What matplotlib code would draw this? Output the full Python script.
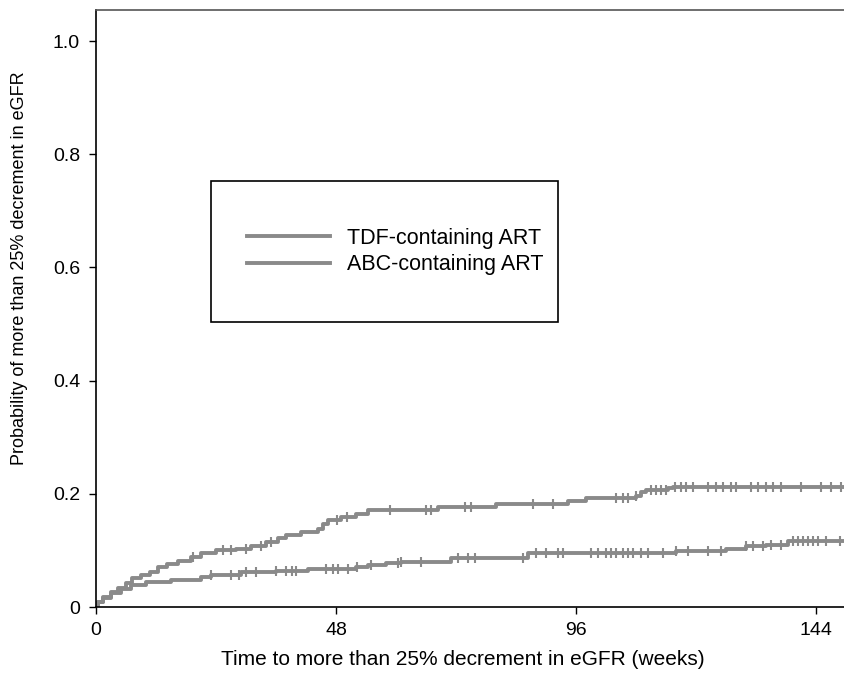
import numpy as np
import matplotlib
matplotlib.use('Agg')
import matplotlib.pyplot as plt
from matplotlib.patches import Rectangle

plt.rcParams['font.family'] = ['Liberation Sans', 'DejaVu Sans']

# step data (weeks, cumulative probability)
tdf_time = [0, 0.5, 1.5, 3, 4.5, 6, 7.2, 9, 10.8, 12.5, 14.2, 16.5, 19, 21, 24, 28,
            31, 34, 36.5, 38, 41, 44.5, 45.5, 46.5, 49, 52, 54.5, 68.5, 80, 94.5,
            98, 108, 109, 110, 114.5, 115.5, 150]
tdf_prob = [0, 0.008, 0.018, 0.026, 0.034, 0.042, 0.051, 0.056, 0.062, 0.070, 0.076,
            0.082, 0.088, 0.095, 0.100, 0.103, 0.108, 0.114, 0.122, 0.128, 0.133,
            0.138, 0.146, 0.154, 0.159, 0.165, 0.171, 0.177, 0.182, 0.187, 0.193,
            0.197, 0.203, 0.207, 0.210, 0.212, 0.212]

abc_time = [0, 0.5, 1.5, 3, 5, 7, 10, 15, 21, 23, 29, 36, 42.5, 52, 54.5, 58, 61,
            71, 86.5, 116, 126, 130, 134, 138.5, 150]
abc_prob = [0, 0.008, 0.016, 0.024, 0.032, 0.038, 0.044, 0.048, 0.053, 0.057, 0.061,
            0.064, 0.068, 0.071, 0.074, 0.077, 0.080, 0.087, 0.095, 0.099, 0.102,
            0.107, 0.109, 0.116, 0.116]

# censoring marks (weeks)
tdf_cens = [19.5, 25.5, 27, 30, 33, 35, 48.2, 50.3, 58.8, 66, 67.1, 73.8, 75, 87.5,
            91.5, 104, 105.5, 106.5, 108, 111, 112, 113, 114, 115.8, 117, 118, 119.5,
            122.5, 124, 125.5, 127, 128, 131, 132.5, 134, 135.5, 137, 141, 145, 147, 149]
abc_cens = [23, 27, 28.7, 30, 32, 36, 38, 39.3, 40, 46, 47.5, 48.5, 50.5, 52.3, 55,
            60.5, 61, 65, 72.5, 74.5, 75.8, 85.5, 88, 90, 92.5, 93.5, 99, 100.5, 102,
            103, 104, 105.5, 106.5, 107.5, 109, 110.5, 113.5, 116, 118.5, 122.5, 125,
            130, 131.5, 133.5, 135, 137, 139.5, 140.5, 141.5, 142.5, 143.5, 144.5, 146,
            148.8]

labels = ['TDF-containing ART', 'ABC-containing ART']
xticks = [0, 48, 96, 144]
yticks = [0, 0.2, 0.4, 0.6, 0.8, 1.0]
yticklabels = ['0', '0.2', '0.4', '0.6', '0.8', '1.0']

line_col = '#8a8a8a'


def step_at(times, probs, t):
    idx = np.searchsorted(times, t, side='right') - 1
    return np.asarray(probs)[idx]


fig = plt.figure(figsize=(8.45, 6.83), dpi=100)
ax = fig.add_axes([96 / 845, 1 - 607 / 683, 1 - 96 / 845, 597 / 683])

h1, = ax.plot(tdf_time, tdf_prob, drawstyle='steps-post', color=line_col, lw=2.8)
h2, = ax.plot(abc_time, abc_prob, drawstyle='steps-post', color=line_col, lw=2.8)
ax.plot(tdf_cens, step_at(tdf_time, tdf_prob, tdf_cens), ls='none', marker='|',
        ms=7, mew=1.5, color=line_col)
ax.plot(abc_cens, step_at(abc_time, abc_prob, abc_cens), ls='none', marker='|',
        ms=7, mew=1.5, color=line_col)

ax.set_xlim(0, 149.8)
ax.set_ylim(0, 1.0548)
ax.set_xticks(xticks)
ax.set_yticks(yticks)
ax.set_yticklabels(yticklabels)
ax.spines['right'].set_visible(False)
for s in ['left', 'bottom', 'top']:
    ax.spines[s].set_linewidth(1.2)
ax.spines['top'].set_color('#555555')
ax.tick_params(axis='both', direction='out', length=5, width=1, labelsize=14)
ax.tick_params(axis='x', pad=6)
ax.tick_params(axis='y', pad=6.5)

ax.set_xlabel('Time to more than 25% decrement in eGFR (weeks)', fontsize=15)
ax.set_ylabel('Probability of more than 25% decrement in eGFR', fontsize=13)
ax.xaxis.set_label_coords(0.49, -0.072)
ax.yaxis.set_label_coords(-0.091, 0.568)

# legend box drawn separately, entries placed inside
fig.patches.append(Rectangle((211 / 845, 1 - 322 / 683), 347 / 845, 141 / 683,
                             transform=fig.transFigure, fill=False, ec='black',
                             lw=1.2))
fig.legend([h1, h2], labels, loc='center left',
           bbox_to_anchor=(247 / 845, 1 - 251.5 / 683), frameon=False,
           fontsize=15.5, handlelength=3.86, handletextpad=0.79, borderpad=0,
           borderaxespad=0, labelspacing=0.25)

fig.savefig('out.png', dpi=100)
